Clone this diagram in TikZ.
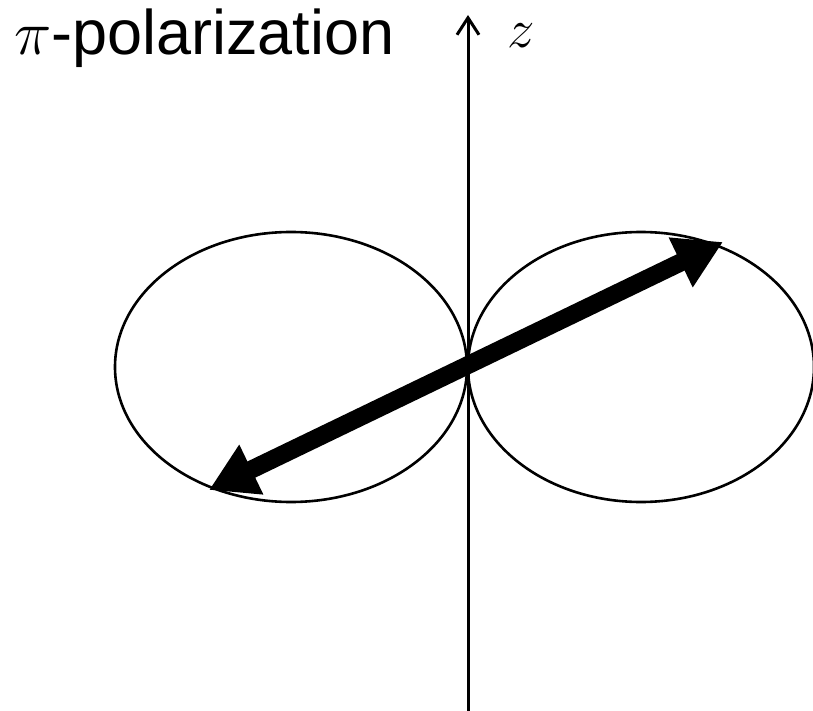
\RequirePackage{fix-cm}
\documentclass[tikz,border=0pt]{standalone}
\usepackage{fontspec}
\setmainfont{Liberation Sans}
\usetikzlibrary{arrows.meta}

\begin{document}
\begin{tikzpicture}[x=1pt,y=-1pt]
\useasboundingbox (0,0) rectangle (813,711);

% Coordinates
\coordinate (O) at (468,366);
\coordinate (zbot) at (468,711);
\coordinate (ztop) at (468,15);
\coordinate (pleft) at (209,490);
\coordinate (pright) at (723,242);

% z axis
\draw[line width=3pt, -{Straight Barb[length=17pt,width=22pt]}] (zbot) -- (ztop);
\node[anchor=base west, inner sep=0pt, font=\fontsize{55}{60}\selectfont] (zlab) at (507,48) {$z$};

% Dipole lobes
\draw[line width=2.6pt] (291,367) ellipse (176 and 135);
\draw[line width=2.6pt] (641,367) ellipse (173 and 135);

% Polarization
\draw[line width=18pt, {Triangle[length=47pt,width=52pt]}-{Triangle[length=47pt,width=52pt]}] (pleft) -- (pright);

% Title
\node[anchor=base west, inner sep=0pt, font=\fontsize{63}{66}\selectfont] (title) at (14,55) {$\pi$-polarization};

\end{tikzpicture}
\end{document}
